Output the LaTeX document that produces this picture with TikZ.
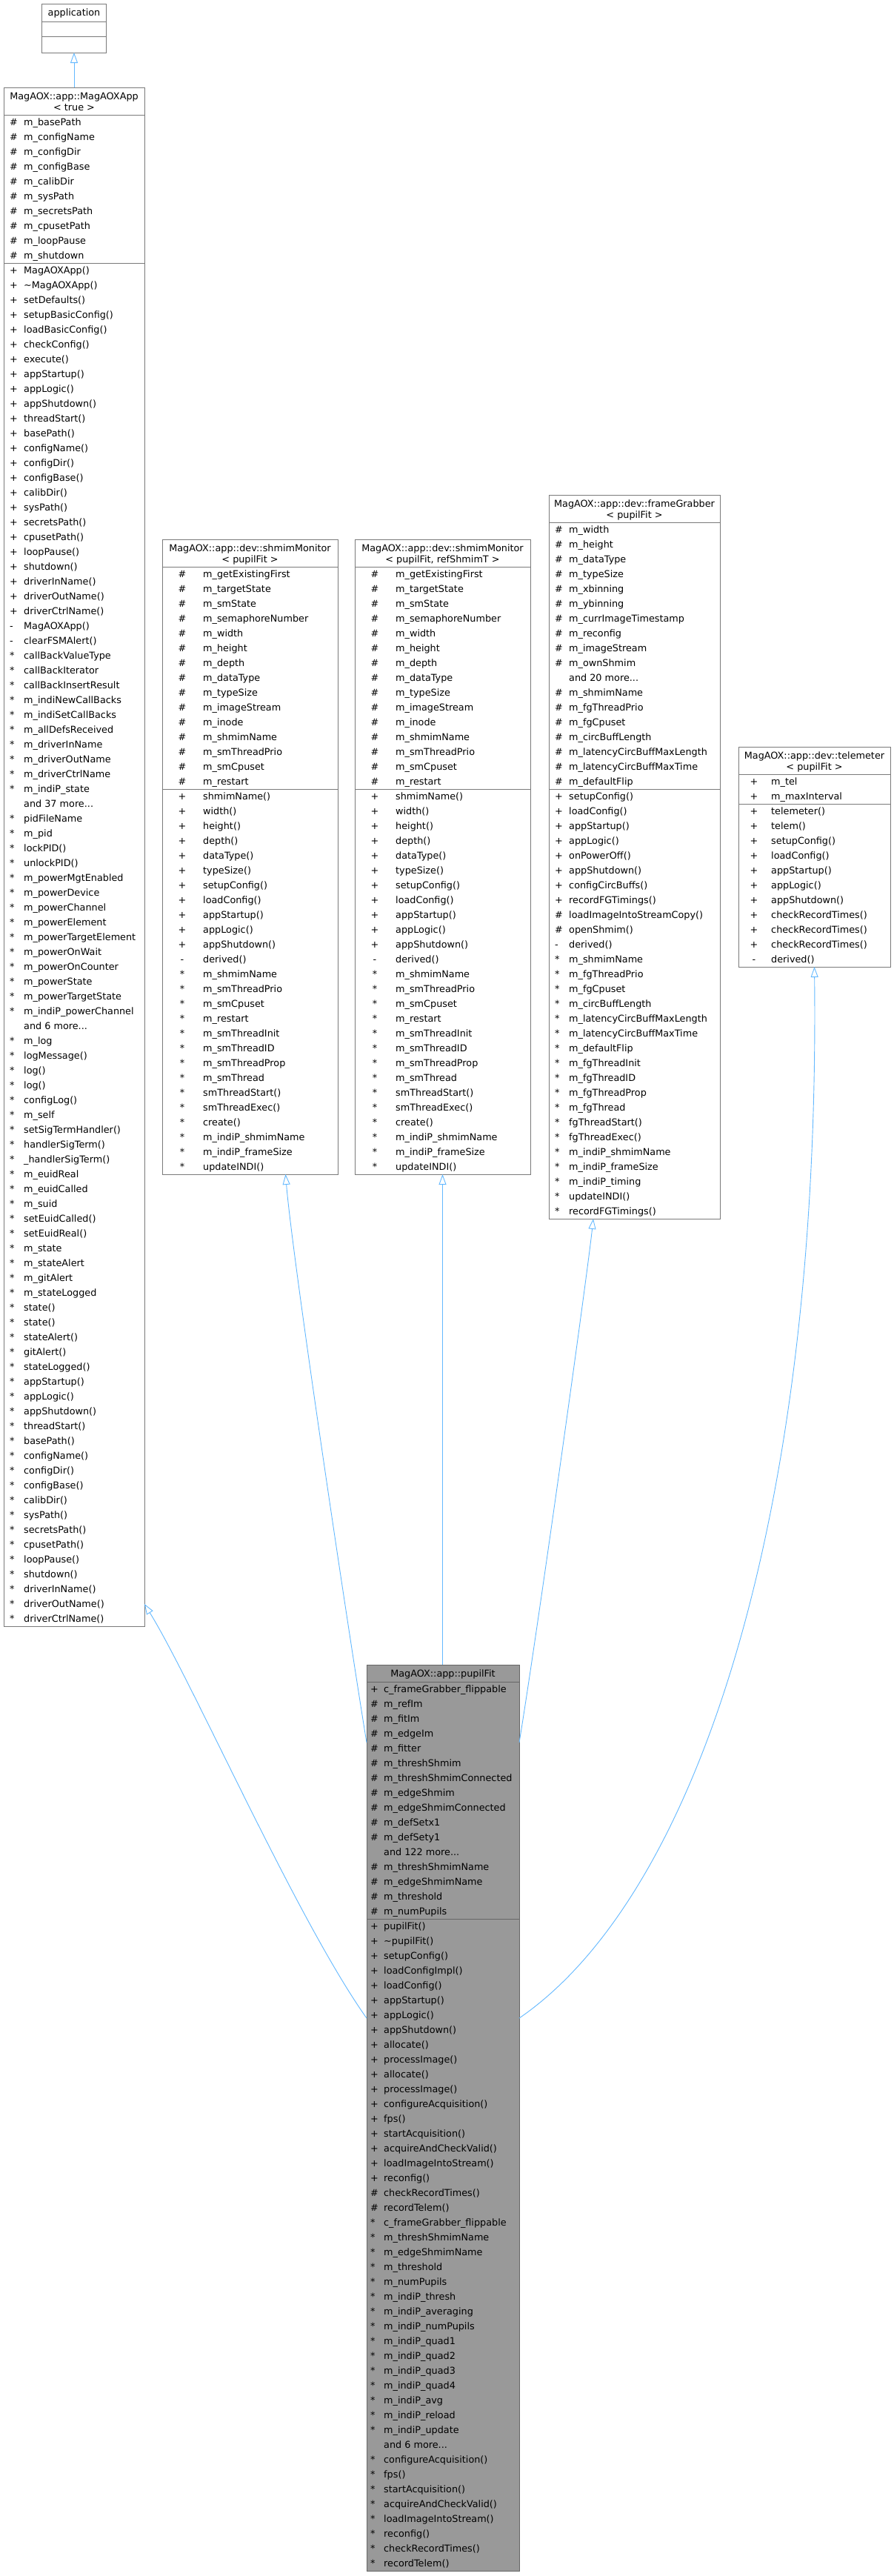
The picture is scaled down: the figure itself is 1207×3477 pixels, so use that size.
\documentclass[tikz,border=0pt]{standalone}
\usepackage{fontspec}
\setmainfont{DejaVu Sans}
\usetikzlibrary{arrows.meta,calc}
\definecolor{boxgray}{HTML}{7A7A7A}
\definecolor{pfgray}{HTML}{999999}
\definecolor{pfline}{HTML}{666666}
\definecolor{edgeblue}{HTML}{63B8FF}
\tikzset{
  cbox/.style={draw=boxgray, line width=1pt, fill=white, inner sep=0pt, outer sep=0pt, anchor=north west},
  sepl/.style={draw=boxgray, line width=1pt},
  sym/.style={anchor=base west, inner sep=0pt},
  symc/.style={anchor=base, inner sep=0pt},
  nm/.style={anchor=base west, inner sep=0pt},
  ttl/.style={anchor=base, inner sep=0pt},
  inh/.style={draw=edgeblue, line width=0.9pt, -{Triangle[open, length=14pt, width=10pt]}},
}
% plain rows: #1 prefix, #2 symbol x (west), #3 name x, #4 first row centre y, #5 list
\newcommand\prows[5]{%
  \foreach \s/\n [count=\i from 0] in {#5} {
    \node[sym] (#1s\i) at ({#2},{#4+4.5+20*\i}) {\s};
    \node[nm] (#1n\i) at ({#3},{#4+4.5+20*\i}) {\n};
  }}
% table rows: #2 symbol x (centre)
\newcommand\trows[5]{%
  \foreach \s/\n [count=\i from 0] in {#5} {
    \node[symc] (#1s\i) at ({#2},{#4+4.5+20*\i}) {\s};
    \node[nm] (#1n\i) at ({#3},{#4+4.5+20*\i}) {\n};
  }}
\newcommand\sepat[2]{\draw[sepl] ($(#1.north west)+(0,#2)$) -- ($(#1.north east)+(0,#2)$);}
\newcommand\shmbox[3]{%
  \node[cbox, minimum width=237pt, minimum height=857pt] (#1) at (#2,728) {};
  \sepat{#1}{37}
  \sepat{#1}{337}
  \node[ttl] (#1ta) at ($(#1.north)+(0,16.5)$) {MagAOX::app::dev::shmimMonitor};
  \node[ttl] (#1tb) at ($(#1.north)+(0,31.5)$) {#3};
  \trows{#1a}{#2+27}{#2+55}{775}{\#/m\_getExistingFirst, \#/m\_targetState, \#/m\_smState, \#/m\_semaphoreNumber, \#/m\_width, \#/m\_height, \#/m\_depth, \#/m\_dataType, \#/m\_typeSize, \#/m\_imageStream, \#/m\_inode, \#/m\_shmimName, \#/m\_smThreadPrio, \#/m\_smCpuset, \#/m\_restart}
  \trows{#1m}{#2+27}{#2+55}{1075}{+/shmimName(), +/width(), +/height(), +/depth(), +/dataType(), +/typeSize(), +/setupConfig(), +/loadConfig(), +/appStartup(), +/appLogic(), +/appShutdown(), -/derived(), */m\_shmimName, */m\_smThreadPrio, */m\_smCpuset, */m\_restart, */m\_smThreadInit, */m\_smThreadID, */m\_smThreadProp, */m\_smThread, */smThreadStart(), */smThreadExec(), */create(), */m\_indiP\_shmimName, */m\_indiP\_frameSize, */updateINDI()}
}
\begin{document}
\begin{tikzpicture}[x=1pt, y=-1pt, font=\fontsize{12.8}{15}\selectfont]
\useasboundingbox (0,0) rectangle (1207,3477);

% ---------------- application
\node[cbox, minimum width=87pt, minimum height=66pt] (app) at (56.5,5) {};
\sepat{app}{24}
\sepat{app}{44}
\node[ttl] (appt) at ($(app.north)+(0,16.5)$) {application};

% ---------------- MagAOXApp
\node[cbox, minimum width=190pt, minimum height=2077pt] (maga) at (5,118) {};
\sepat{maga}{37}
\sepat{maga}{237}
\node[ttl] (magata) at ($(maga.north)+(0,16.5)$) {MagAOX::app::MagAOXApp};
\node[ttl] (magatb) at ($(maga.north)+(0,31.5)$) {< true >};
\prows{magaa}{13}{32}{165}{\#/m\_basePath, \#/m\_configName, \#/m\_configDir, \#/m\_configBase, \#/m\_calibDir, \#/m\_sysPath, \#/m\_secretsPath, \#/m\_cpusetPath, \#/m\_loopPause, \#/m\_shutdown}
\prows{magam}{13}{32}{365}{+/MagAOXApp(), +/\textasciitilde MagAOXApp(), +/setDefaults(), +/setupBasicConfig(), +/loadBasicConfig(), +/checkConfig(), +/execute(), +/appStartup(), +/appLogic(), +/appShutdown(), +/threadStart(), +/basePath(), +/configName(), +/configDir(), +/configBase(), +/calibDir(), +/sysPath(), +/secretsPath(), +/cpusetPath(), +/loopPause(), +/shutdown(), +/driverInName(), +/driverOutName(), +/driverCtrlName(), -/MagAOXApp(), -/clearFSMAlert(), */callBackValueType, */callBackIterator, */callBackInsertResult, */m\_indiNewCallBacks, */m\_indiSetCallBacks, */m\_allDefsReceived, */m\_driverInName, */m\_driverOutName, */m\_driverCtrlName, */m\_indiP\_state, {}/and 37 more.{}.{}., */pidFileName, */m\_pid, */lockPID(), */unlockPID(), */m\_powerMgtEnabled, */m\_powerDevice, */m\_powerChannel, */m\_powerElement, */m\_powerTargetElement, */m\_powerOnWait, */m\_powerOnCounter, */m\_powerState, */m\_powerTargetState, */m\_indiP\_powerChannel, {}/and 6 more.{}.{}., */m\_log, */logMessage(), */log(), */log(), */configLog(), */m\_self, */setSigTermHandler(), */handlerSigTerm(), */\_handlerSigTerm(), */m\_euidReal, */m\_euidCalled, */m\_suid, */setEuidCalled(), */setEuidReal(), */m\_state, */m\_stateAlert, */m\_gitAlert, */m\_stateLogged, */state(), */state(), */stateAlert(), */gitAlert(), */stateLogged(), */appStartup(), */appLogic(), */appShutdown(), */threadStart(), */basePath(), */configName(), */configDir(), */configBase(), */calibDir(), */sysPath(), */secretsPath(), */cpusetPath(), */loopPause(), */shutdown(), */driverInName(), */driverOutName(), */driverCtrlName()}

% ---------------- shmimMonitor boxes
\shmbox{shma}{219}{< pupilFit >}
\shmbox{shmb}{479}{< pupilFit, refShmimT >}

% ---------------- frameGrabber
\node[cbox, minimum width=231pt, minimum height=977pt] (fg) at (741,668) {};
\sepat{fg}{37}
\sepat{fg}{397}
\node[ttl] (fgta) at ($(fg.north)+(0,16.5)$) {MagAOX::app::dev::frameGrabber};
\node[ttl] (fgtb) at ($(fg.north)+(0,31.5)$) {< pupilFit >};
\prows{fga}{749}{768}{715}{\#/m\_width, \#/m\_height, \#/m\_dataType, \#/m\_typeSize, \#/m\_xbinning, \#/m\_ybinning, \#/m\_currImageTimestamp, \#/m\_reconfig, \#/m\_imageStream, \#/m\_ownShmim, {}/and 20 more.{}.{}., \#/m\_shmimName, \#/m\_fgThreadPrio, \#/m\_fgCpuset, \#/m\_circBuffLength, \#/m\_latencyCircBuffMaxLength, \#/m\_latencyCircBuffMaxTime, \#/m\_defaultFlip}
\prows{fgm}{749}{768}{1075}{+/setupConfig(), +/loadConfig(), +/appStartup(), +/appLogic(), +/onPowerOff(), +/appShutdown(), +/configCircBuffs(), +/recordFGTimings(), \#/loadImageIntoStreamCopy(), \#/openShmim(), -/derived(), */m\_shmimName, */m\_fgThreadPrio, */m\_fgCpuset, */m\_circBuffLength, */m\_latencyCircBuffMaxLength, */m\_latencyCircBuffMaxTime, */m\_defaultFlip, */m\_fgThreadInit, */m\_fgThreadID, */m\_fgThreadProp, */m\_fgThread, */fgThreadStart(), */fgThreadExec(), */m\_indiP\_shmimName, */m\_indiP\_frameSize, */m\_indiP\_timing, */updateINDI(), */recordFGTimings()}

% ---------------- telemeter
\node[cbox, minimum width=205pt, minimum height=297pt] (tel) at (997,1008) {};
\sepat{tel}{37}
\sepat{tel}{77}
\node[ttl] (telta) at ($(tel.north)+(0,16.5)$) {MagAOX::app::dev::telemeter};
\node[ttl] (teltb) at ($(tel.north)+(0,31.5)$) {< pupilFit >};
\trows{tela}{1018}{1041}{1055}{+/m\_tel, +/m\_maxInterval}
\trows{telm}{1018}{1041}{1095}{+/telemeter(), +/telem(), +/setupConfig(), +/loadConfig(), +/appStartup(), +/appLogic(), +/appShutdown(), +/checkRecordTimes(), +/checkRecordTimes(), +/checkRecordTimes(), -/derived()}

% ---------------- pupilFit
\node[cbox, fill=pfgray, draw=pfline, minimum width=206pt, minimum height=1223pt] (pf) at (495,2247) {};
\draw[draw=pfline, line width=1pt] ($(pf.north west)+(0,23)$) -- ($(pf.north east)+(0,23)$);
\draw[draw=pfline, line width=1pt] ($(pf.north west)+(0,343)$) -- ($(pf.north east)+(0,343)$);
\node[ttl] (pft) at ($(pf.north)+(0,16.5)$) {MagAOX::app::pupilFit};
\prows{pfa}{500}{518}{2280}{+/c\_frameGrabber\_flippable, \#/m\_refIm, \#/m\_fitIm, \#/m\_edgeIm, \#/m\_fitter, \#/m\_threshShmim, \#/m\_threshShmimConnected, \#/m\_edgeShmim, \#/m\_edgeShmimConnected, \#/m\_defSetx1, \#/m\_defSety1, {}/and 122 more.{}.{}., \#/m\_threshShmimName, \#/m\_edgeShmimName, \#/m\_threshold, \#/m\_numPupils}
\prows{pfm}{500}{518}{2600}{+/pupilFit(), +/\textasciitilde pupilFit(), +/setupConfig(), +/loadConfigImpl(), +/loadConfig(), +/appStartup(), +/appLogic(), +/appShutdown(), +/allocate(), +/processImage(), +/allocate(), +/processImage(), +/configureAcquisition(), +/fps(), +/startAcquisition(), +/acquireAndCheckValid(), +/loadImageIntoStream(), +/reconfig(), \#/checkRecordTimes(), \#/recordTelem(), */c\_frameGrabber\_flippable, */m\_threshShmimName, */m\_edgeShmimName, */m\_threshold, */m\_numPupils, */m\_indiP\_thresh, */m\_indiP\_averaging, */m\_indiP\_numPupils, */m\_indiP\_quad1, */m\_indiP\_quad2, */m\_indiP\_quad3, */m\_indiP\_quad4, */m\_indiP\_avg, */m\_indiP\_reload, */m\_indiP\_update, {}/and 6 more.{}.{}., */configureAcquisition(), */fps(), */startAcquisition(), */acquireAndCheckValid(), */loadImageIntoStream(), */reconfig(), */checkRecordTimes(), */recordTelem()}

% ---------------- inheritance connectors
\draw[inh] (maga.north) -- (maga.north |- app.south);
\draw[inh] ($(pf.north west)+(0,477)$) .. controls (400,2590) and (260,2270) .. ($(maga.south east)+(0,-30)$);
\draw[inh] ($(pf.north west)+(0,105)$) .. controls (470,2200) and (395,1700) .. ($(shma.south)+(48,0)$);
\draw[inh] (pf.north -| shmb.south) -- (shmb.south);
\draw[inh] ($(pf.north east)+(0,105)$) .. controls (726,2200) and (793,1720) .. ($(fg.south)+(-55.5,0)$);
\draw[inh] ($(pf.north east)+(0,477)$) .. controls (940,2560) and (1108,2050) .. (tel.south);
\end{tikzpicture}
\end{document}
